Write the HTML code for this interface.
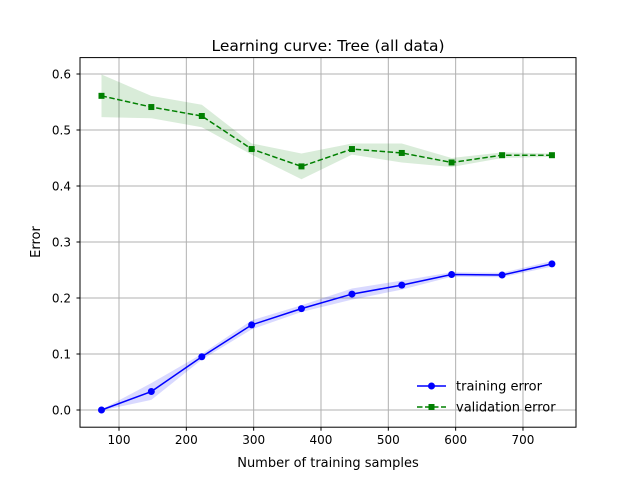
<!DOCTYPE html>
<html><head><meta charset="utf-8"><style>
body{margin:0;background:#fff;}
svg{display:block;font-family:"DejaVu Sans","Liberation Sans",sans-serif;}
</style></head><body>
<svg id="chart" width="640" height="480">
<rect width="640" height="480" fill="#fff"/>
<g id="grid"></g>
<g id="bands"></g>
<g id="series"></g>
<rect x="80" y="57.6" width="496" height="369.6" fill="none" stroke="#000" stroke-width="1"/>
<g id="ticks"></g>
<text x="328" y="51" text-anchor="middle" font-size="15.5">Learning curve: Tree (all data)</text>
<text x="328" y="467" text-anchor="middle" font-size="13">Number of training samples</text>
<text transform="translate(40,242) rotate(-90)" text-anchor="middle" font-size="13">Error</text>
<g>
<line x1="417" y1="386" x2="446" y2="386" stroke="#0000ff" stroke-width="1.5"/>
<circle cx="431.5" cy="386" r="3.5" fill="#0000ff"/>
<text x="456" y="390.5" font-size="13">training error</text>
<line x1="417" y1="407" x2="446" y2="407" stroke="#008000" stroke-width="1.5" stroke-dasharray="5.5,2.5"/>
<rect x="428.5" y="404" width="6" height="6" fill="#008000"/>
<text x="456" y="411.5" font-size="13">validation error</text>
</g>
</svg>
<script>
const sizes=[74,148,223,297,371,446,520,594,669,743];
const trainErr=[0,0.033,0.095,0.152,0.181,0.207,0.223,0.242,0.241,0.261];
const trainStd=[0.001,0.015,0.005,0.008,0.006,0.01,0.008,0.004,0.004,0.005];
const valErr=[0.561,0.541,0.525,0.466,0.435,0.466,0.459,0.442,0.455,0.455];
const valStd=[0.038,0.02,0.02,0.01,0.023,0.01,0.017,0.008,0.005,0.003];
const xTicks=[100,200,300,400,500,600,700];
const yTicks=[0.0,0.1,0.2,0.3,0.4,0.5,0.6];
const X=v=>119+(v-100)*0.6733;
const Y=v=>410-v*560;
const NS="http://www.w3.org/2000/svg";
function mk(t,a,p){const e=document.createElementNS(NS,t);for(const k in a)e.setAttribute(k,a[k]);p.appendChild(e);return e;}
const grid=document.getElementById('grid'),ticks=document.getElementById('ticks');
xTicks.forEach(v=>{const x=X(v);
 const g=mk('line',{x1:x,x2:x,y1:57.6,y2:427.2,stroke:'#b0b0b0','stroke-width':1},grid);
 
 
 mk('line',{x1:x,x2:x,y1:427.2,y2:430.7,stroke:'#000'},ticks);
 const t=mk('text',{x:x,y:444,'text-anchor':'middle','font-size':12},ticks);t.textContent=v;
 
 });
yTicks.forEach(v=>{const y=Y(v);
 const g=mk('line',{x1:80,x2:576,y1:y,y2:y,stroke:'#b0b0b0','stroke-width':1},grid);
 
 
 mk('line',{x1:76.5,x2:80,y1:y,y2:y,stroke:'#000'},ticks);
 const t=mk('text',{x:71,y:y+4.5,'text-anchor':'end','font-size':12},ticks);t.textContent=v.toFixed(1);
 
 });
function band(m,s,col,name){
 let d=sizes.map((v,i)=>(i?'L':'M')+X(v)+','+Y(m[i]+s[i])).join('');
 for(let i=sizes.length-1;i>=0;i--)d+='L'+X(sizes[i])+','+Y(m[i]-s[i]);
 const p=mk('path',{d:d+'Z',fill:col,'fill-opacity':0.15},document.getElementById('bands'));
 
 }
band(trainErr,trainStd,'#0000ff','training-band');
band(valErr,valStd,'#008000','validation-band');
const S=document.getElementById('series');
const tl=mk('polyline',{points:sizes.map((v,i)=>X(v)+','+Y(trainErr[i])).join(' '),fill:'none',stroke:'#0000ff','stroke-width':1.5},S);


const vl=mk('polyline',{points:sizes.map((v,i)=>X(v)+','+Y(valErr[i])).join(' '),fill:'none',stroke:'#008000','stroke-width':1.5,'stroke-dasharray':'5.5,2.5'},S);


sizes.forEach((v,i)=>{
 const c=mk('circle',{cx:X(v),cy:Y(trainErr[i]),r:3.5,fill:'#0000ff'},S);
 
 
 const r=mk('rect',{x:X(v)-3,y:Y(valErr[i])-3,width:6,height:6,fill:'#008000'},S);
 
 });
</script>
</body></html>
